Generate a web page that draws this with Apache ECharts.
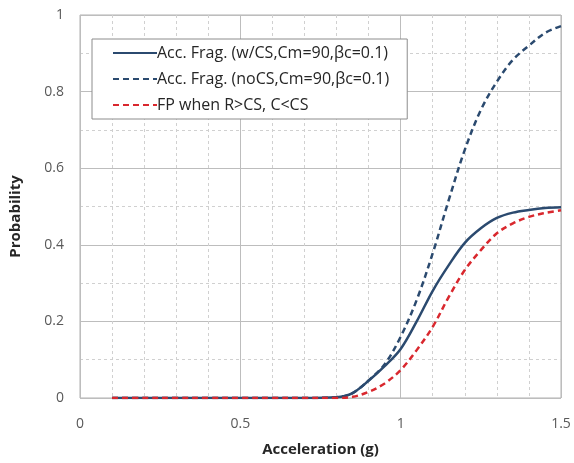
<!DOCTYPE html>
<html>
<head>
<meta charset="utf-8">
<script src="https://cdn.jsdelivr.net/npm/echarts@6/dist/echarts.min.js"></script>
<style>
  html, body { margin: 0; padding: 0; background: #fff; }
  #chart { width: 574px; height: 463px; }
</style>
</head>
<body>
<div id="chart"></div>
<script>
// acceleration (g)
var accel = [0.1, 0.2, 0.3, 0.4, 0.5, 0.6, 0.7, 0.8, 0.85, 0.9, 0.95, 1.0, 1.05, 1.1, 1.15, 1.2, 1.25, 1.3, 1.35, 1.4, 1.45, 1.5]
// probabilities
var fragWithCS = [0, 0, 0, 0, 0, 0, 0, 0.002, 0.013, 0.045, 0.083, 0.128, 0.2, 0.28, 0.347, 0.405, 0.443, 0.47, 0.484, 0.491, 0.496, 0.498]
var fragNoCS = [0, 0, 0, 0, 0, 0, 0, 0.002, 0.013, 0.046, 0.088, 0.16, 0.256, 0.378, 0.517, 0.648, 0.752, 0.826, 0.883, 0.92, 0.953, 0.971]
var fpRCS = [0, 0, 0, 0, 0, 0, 0, 0, 0.003, 0.016, 0.038, 0.073, 0.125, 0.186, 0.264, 0.334, 0.386, 0.43, 0.456, 0.473, 0.483, 0.49]

var names = ['Acc. Frag. (w/CS,Cm=90,\u03b2c=0.1)', 'Acc. Frag. (noCS,Cm=90,\u03b2c=0.1)', 'FP when R>CS, C<CS']

function pairs(ys) {
    return accel.map(function(x, i) { return [x, ys[i]] })
}

var chart = echarts.init(document.getElementById('chart'))
var font = 'Open Sans'
chart.setOption({
    animation: false,
    grid: {
        left: 76, right: 13, top: 15, bottom: 65,
        show: true, borderColor: '#b0b0b0', borderWidth: 1
    },
    legend: {
        orient: 'vertical',
        left: 92, top: 39,
        padding: [5, 18, 5, 20],
        itemGap: 8,
        itemWidth: 44,
        itemHeight: 14,
        itemStyle: { opacity: 0 },
        backgroundColor: '#fff',
        borderColor: '#8c8c8c',
        borderWidth: 1,
        textStyle: { fontFamily: font, fontSize: 16, lineHeight: 18, color: '#262626', padding: [0, 0, 0, -5] },
        data: names
    },
    xAxis: {
        type: 'value',
        min: 0, max: 1.5, interval: 0.5,
        name: 'Acceleration (g)',
        nameLocation: 'middle',
        nameGap: 44,
        nameTextStyle: { fontFamily: font, fontSize: 15, fontWeight: 'bold', color: '#262626' },
        axisLine: { show: false },
        axisTick: { show: false },
        axisLabel: { fontFamily: font, fontSize: 14, color: '#595959', margin: 19 },
        splitLine: { lineStyle: { color: '#bdbdbd', width: 1 } },
        minorTick: { show: false, splitNumber: 5 },
        minorSplitLine: { show: true, lineStyle: { color: '#d0d0d0', type: [3, 3], width: 1 } }
    },
    yAxis: {
        type: 'value',
        min: 0, max: 1, interval: 0.2,
        name: 'Probability',
        nameLocation: 'middle',
        nameGap: 57,
        nameTextStyle: { fontFamily: font, fontSize: 15, fontWeight: 'bold', color: '#262626', padding: [0, 0, 0, -20] },
        axisLine: { show: false },
        axisTick: { show: false },
        axisLabel: { fontFamily: font, fontSize: 14, color: '#595959', margin: 16 },
        splitLine: { lineStyle: { color: '#bdbdbd', width: 1 } },
        minorTick: { show: false, splitNumber: 2 },
        minorSplitLine: { show: true, lineStyle: { color: '#d0d0d0', type: [3, 3], width: 1 } }
    },
    series: [
        {
            name: names[0],
            type: 'line',
            data: pairs(fragWithCS),
            smooth: 0.35,
            symbol: 'none',
            lineStyle: { color: '#2b4a6f', width: 2.5 },
            itemStyle: { color: '#2b4a6f' },
            z: 3
        },
        {
            name: names[1],
            type: 'line',
            data: pairs(fragNoCS),
            smooth: 0.35,
            symbol: 'none',
            lineStyle: { color: '#2b4a6f', width: 2.5, type: [6, 4] },
            itemStyle: { color: '#2b4a6f' },
            z: 2
        },
        {
            name: names[2],
            type: 'line',
            data: pairs(fpRCS),
            smooth: 0.35,
            symbol: 'none',
            lineStyle: { color: '#d9282e', width: 2.5, type: [6, 4] },
            itemStyle: { color: '#d9282e' },
            z: 4
        }
    ]
})
</script>
</body>
</html>
